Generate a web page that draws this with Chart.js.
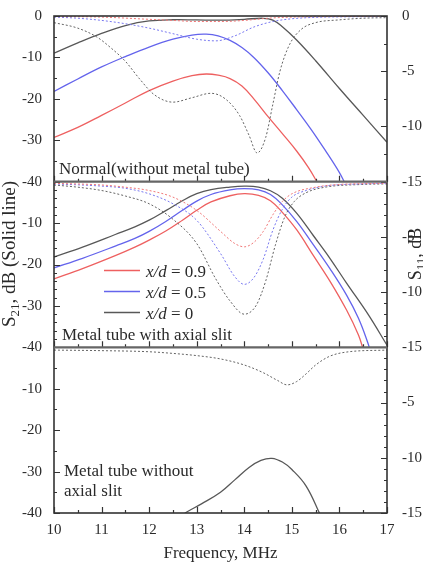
<!DOCTYPE html>
<html>
<head>
<meta charset="utf-8">
<script src="https://cdn.jsdelivr.net/npm/chart.js@4.4.1/dist/chart.umd.min.js"></script>
<style>
  html, body { margin: 0; padding: 0; background: #fff; }
  #wrap { width: 423px; height: 573px; }
</style>
</head>
<body>
<div id="wrap"><canvas id="chart" width="423" height="573"></canvas></div>
<script>
// [frequency MHz, dB]
// panel 1: normal (without metal tube)
const n_red_s21 = [[10,-29.3],[10.5,-26.9],[11,-24.0],[11.5,-21.0],[12,-18.0],[12.5,-15.7],[12.9,-14.4],[13.2,-14.0],[13.45,-14.3],[13.7,-15.1],[13.95,-16.9],[14.2,-20.0],[14.5,-24.3],[14.8,-28.4],[15.1,-32.6],[15.35,-36.6],[15.55,-40.5]];
const n_blue_s21 = [[10,-18.2],[10.5,-15.2],[11,-12.3],[11.5,-9.8],[12,-7.5],[12.5,-5.6],[12.9,-4.6],[13.2,-4.4],[13.45,-4.8],[13.7,-5.9],[13.95,-7.6],[14.2,-10.0],[14.5,-13.7],[14.8,-18.0],[15.1,-22.6],[15.4,-27.3],[15.7,-32.4],[16,-37.8],[16.12,-40.5]];
const n_black_s21 = [[10,-9],[10.5,-6.5],[11,-4.2],[11.5,-2.3],[12,-1.2],[12.5,-0.9],[13,-0.95],[13.5,-1.0],[14,-0.8],[14.4,-0.55],[14.6,-1.0],[14.8,-2.6],[15.1,-5.8],[15.5,-10.8],[16,-17.5],[16.5,-24],[17,-30.5]];
const n_red_s11 = [[10,-0.05],[11,-0.1],[12,-0.3],[12.5,-0.4],[13,-0.5],[13.5,-0.5],[14,-0.4],[14.5,-0.2],[15,-0.1],[16,-0.05],[17,-0.03]];
const n_blue_s11 = [[10,-0.1],[10.5,-0.2],[11,-0.4],[11.5,-0.7],[12,-1.1],[12.5,-1.6],[13,-2.1],[13.4,-2.25],[13.8,-1.8],[14.2,-1.0],[14.6,-0.5],[15,-0.25],[15.5,-0.12],[16,-0.08],[17,-0.05]];
const n_black_s11 = [[10,-0.6],[10.5,-1.1],[10.9,-1.9],[11.2,-2.9],[11.5,-4.1],[11.8,-5.7],[12.1,-7.1],[12.5,-7.8],[12.9,-7.4],[13.3,-7.0],[13.6,-7.5],[13.9,-9.0],[14.1,-10.8],[14.27,-12.4],[14.45,-11.0],[14.6,-8.0],[14.75,-5.0],[14.95,-2.6],[15.2,-1.2],[15.5,-0.6],[16,-0.35],[16.5,-0.2],[17,-0.15]];

// panel 2: metal tube with axial slit
const s_red_s21 = [[10,-23.5],[10.6,-21],[11.3,-17.8],[11.7,-15.8],[12,-14.1],[12.35,-11.9],[12.7,-9.3],[13,-6.9],[13.3,-4.9],[13.7,-3.4],[14,-2.9],[14.3,-3.3],[14.55,-4.6],[14.8,-7.4],[15.1,-11.6],[15.45,-17.8],[15.8,-24],[16.15,-31],[16.4,-37],[16.5,-40.5]];
const s_blue_s21 = [[10,-20.8],[10.6,-18.5],[11.3,-15.5],[11.7,-13.7],[12,-12.0],[12.35,-9.6],[12.7,-6.9],[13,-4.7],[13.3,-3.1],[13.7,-2.0],[14,-1.7],[14.3,-2.0],[14.55,-3.1],[14.8,-5.6],[15.1,-9.6],[15.45,-15.2],[15.8,-21],[16.15,-27.4],[16.4,-33],[16.6,-39],[16.65,-41]];
const s_black_s21 = [[10,-18.2],[10.6,-15.8],[11.3,-12.7],[11.7,-10.9],[12,-9.3],[12.35,-7.0],[12.7,-4.6],[13,-2.9],[13.3,-1.9],[13.7,-1.3],[14,-1.1],[14.3,-1.3],[14.55,-2.2],[14.8,-4.0],[15.1,-7.6],[15.45,-13.0],[15.8,-18.5],[16.15,-24.5],[16.6,-32.0],[17,-39.5]];
const s_red_s11 = [[10,-0.15],[11,-0.3],[11.5,-0.5],[12,-0.8],[12.5,-1.4],[13,-2.6],[13.5,-4.5],[13.8,-5.6],[14,-5.9],[14.2,-5.5],[14.4,-4.5],[14.6,-3],[14.8,-1.8],[15,-1.1],[15.5,-0.5],[16,-0.25],[17,-0.15]];
const s_blue_s11 = [[10,-0.2],[11,-0.4],[11.5,-0.6],[12,-1.1],[12.5,-2.0],[13,-3.5],[13.5,-6.5],[13.8,-8.6],[14,-9.3],[14.2,-8.7],[14.4,-7.0],[14.6,-4.4],[14.8,-2.5],[15,-1.4],[15.3,-0.8],[15.7,-0.4],[16.5,-0.2],[17,-0.15]];
const s_black_s11 = [[10,-0.3],[10.5,-0.5],[11,-0.8],[11.5,-1.3],[12,-2.0],[12.5,-3.4],[13,-5.6],[13.4,-8.8],[13.7,-10.8],[14,-12.0],[14.25,-11.2],[14.45,-9],[14.65,-5.8],[14.85,-3.2],[15.05,-1.8],[15.3,-1.0],[15.7,-0.5],[16.5,-0.25],[17,-0.2]];

// panel 3: metal tube without axial slit
const w_black_s21 = [[12.7,-40.5],[12.8,-39.7],[13.1,-37.8],[13.5,-35],[13.8,-32],[14.1,-29],[14.35,-27.3],[14.58,-26.8],[14.8,-27.7],[15,-29.5],[15.3,-33.5],[15.6,-40.5]];
const w_black_s11 = [[10,-0.25],[11,-0.3],[12,-0.4],[12.5,-0.55],[13,-0.75],[13.5,-1.05],[14,-1.6],[14.4,-2.3],[14.7,-3.0],[14.9,-3.4],[15.1,-3.1],[15.3,-2.4],[15.5,-1.6],[15.8,-0.8],[16.2,-0.4],[17,-0.25]];

const legend_labels = ['0.9', '0.5', '0'];
const panel_labels = [['Normal(without metal tube)'], ['Metal tube with axial slit'], ['Metal tube without', 'axial slit']];

const RED = 'rgb(238,96,96)', RED_DOT = 'rgb(240,120,120)';
const BLUE = 'rgb(100,100,236)', BLUE_DOT = 'rgb(120,120,240)';
const BLACK = 'rgb(88,88,88)', BLACK_DOT = 'rgb(100,100,100)';
const SERIF = '"Liberation Serif", "Times New Roman", serif';

function pts(arr) { return arr.map(p => ({x: p[0], y: p[1]})); }
function solid(arr, color, axis) {
  return {data: pts(arr), borderColor: color, borderWidth: 1.3, yAxisID: axis, pointRadius: 0, tension: 0.4};
}
function dotted(arr, color, axis) {
  return {data: pts(arr), borderColor: color, borderWidth: 1, borderDash: [2, 2], yAxisID: axis, pointRadius: 0, cubicInterpolationMode: 'monotone'};
}

function yAxis(pos, min, step, hideZero, weight) {
  return {
    type: 'linear', position: pos, stack: pos, stackWeight: 1, weight: weight,
    min: min, max: 0, offset: false,
    grid: {display: false}, border: {display: false},
    ticks: {
      stepSize: step, autoSkip: false, padding: pos === 'left' ? 4 : 7,
      color: '#2a2a2a', font: {family: SERIF, size: 15},
      callback: v => (hideZero && v === 0) ? '' : String(v)
    },
    afterFit: s => { s.width = pos === 'left' ? 54 : 36; }
  };
}

// minor tick steps per panel [left, right]
const minorSteps = [[5, 2.5], [2, 1], [5, 1]];

const framePlugin = {
  id: 'frame',
  beforeDatasetDraw(chart, args) {
    const y = args.meta.yScale, a = chart.chartArea, ctx = chart.ctx;
    ctx.save();
    ctx.beginPath();
    ctx.rect(a.left, y.top, a.right - a.left, y.bottom - y.top);
    ctx.clip();
  },
  afterDatasetDraw(chart) { chart.ctx.restore(); },
  afterDraw(chart) {
    const ctx = chart.ctx, a = chart.chartArea, xs = chart.scales.x;
    const lefts = [chart.scales.L1, chart.scales.L2, chart.scales.L3];
    const rights = [chart.scales.R1, chart.scales.R2, chart.scales.R3];
    ctx.save();
    ctx.strokeStyle = '#333';
    ctx.lineWidth = 1.2;
    ctx.beginPath();
    lefts.forEach((L, i) => {
      const R = rights[i];
      for (let f = 10; f <= 17; f += 0.5) {
        const px = Math.round(xs.getPixelForValue(f)) + 0.5;
        const len = Number.isInteger(f) ? 6 : 3;
        ctx.moveTo(px, L.bottom); ctx.lineTo(px, L.bottom - len);
      }
      for (let v = -40; v <= 0; v += minorSteps[i][0]) {
        const py = Math.round(L.getPixelForValue(v)) + 0.5;
        const len = v % 10 === 0 ? 6 : 3;
        ctx.moveTo(a.left, py); ctx.lineTo(a.left + len, py);
      }
      for (let v = -15; v <= 0; v += minorSteps[i][1]) {
        const py = Math.round(R.getPixelForValue(v)) + 0.5;
        const len = v % 5 === 0 ? 6 : 3;
        ctx.moveTo(a.right - len, py); ctx.lineTo(a.right, py);
      }
    });
    ctx.stroke();

    // frame and panel separators
    ctx.lineWidth = 1.6;
    ctx.strokeStyle = '#333';
    ctx.strokeRect(a.left, a.top, a.right - a.left, a.bottom - a.top);
    ctx.lineWidth = 2.2;
    ctx.strokeStyle = '#666';
    ctx.beginPath();
    [lefts[0].bottom, lefts[1].bottom].forEach(y => { ctx.moveTo(a.left, y); ctx.lineTo(a.right, y); });
    ctx.stroke();

    // panel labels
    ctx.fillStyle = '#2a2a2a';
    ctx.font = '17px ' + SERIF;
    ctx.textAlign = 'left';
    ctx.textBaseline = 'alphabetic';
    ctx.fillText(panel_labels[0][0], a.left + 5, lefts[0].bottom - 8);
    ctx.fillText(panel_labels[1][0], a.left + 8, lefts[1].bottom - 7);
    ctx.fillText(panel_labels[2][0], a.left + 10, lefts[2].bottom - 37);
    ctx.fillText(panel_labels[2][1], a.left + 10, lefts[2].bottom - 17);

    // legend
    const cols = [RED, BLUE, BLACK];
    const ly = [270.5, 291.5, 312.5];
    cols.forEach((c, i) => {
      ctx.strokeStyle = c;
      ctx.lineWidth = 1.5;
      ctx.beginPath(); ctx.moveTo(104, ly[i]); ctx.lineTo(140, ly[i]); ctx.stroke();
      ctx.font = 'italic 17px ' + SERIF;
      ctx.fillText('x/d', 146, ly[i] + 6);
      const w = ctx.measureText('x/d').width;
      ctx.font = '17px ' + SERIF;
      ctx.fillText(' = ' + legend_labels[i], 146 + w, ly[i] + 6);
    });

    // axis titles
    ctx.font = '17px ' + SERIF;
    ctx.textAlign = 'center';
    ctx.fillText('Frequency, MHz', (a.left + a.right) / 2, 558);

    function subTitle(x, y, size, main, sub, rest) {
      const small = Math.round(size * 0.7);
      ctx.save();
      ctx.translate(x, y);
      ctx.rotate(-Math.PI / 2);
      ctx.textAlign = 'left';
      ctx.font = size + 'px ' + SERIF;
      const w1 = ctx.measureText(main).width;
      const w3 = ctx.measureText(rest).width;
      ctx.font = small + 'px ' + SERIF;
      const w2 = ctx.measureText(sub).width;
      const x0 = -(w1 + w2 + w3) / 2;
      ctx.font = size + 'px ' + SERIF;
      ctx.fillText(main, x0, 0);
      ctx.font = small + 'px ' + SERIF;
      ctx.fillText(sub, x0 + w1, 4);
      ctx.font = size + 'px ' + SERIF;
      ctx.fillText(rest, x0 + w1 + w2, 0);
      ctx.restore();
    }
    subTitle(15, 254, 19, 'S', '21', ', dB (Solid line)');
    subTitle(421, 254, 18, 'S', '11', ', dB');
    ctx.restore();
  }
};

new Chart(document.getElementById('chart'), {
  type: 'line',
  data: {
    datasets: [
      dotted(n_red_s11, RED_DOT, 'R1'), dotted(n_blue_s11, BLUE_DOT, 'R1'), dotted(n_black_s11, BLACK_DOT, 'R1'),
      solid(n_red_s21, RED, 'L1'), solid(n_blue_s21, BLUE, 'L1'), solid(n_black_s21, BLACK, 'L1'),
      dotted(s_red_s11, RED_DOT, 'R2'), dotted(s_blue_s11, BLUE_DOT, 'R2'), dotted(s_black_s11, BLACK_DOT, 'R2'),
      solid(s_red_s21, RED, 'L2'), solid(s_blue_s21, BLUE, 'L2'), solid(s_black_s21, BLACK, 'L2'),
      dotted(w_black_s11, BLACK_DOT, 'R3'),
      solid(w_black_s21, BLACK, 'L3')
    ]
  },
  options: {
    responsive: false,
    animation: false,
    devicePixelRatio: 1,
    layout: {padding: {top: 16, left: 0, right: 0, bottom: 0}},
    plugins: {legend: {display: false}, tooltip: {enabled: false}},
    scales: {
      x: {
        type: 'linear', position: 'bottom', min: 10, max: 17,
        grid: {display: false}, border: {display: false},
        ticks: {stepSize: 1, padding: 0, color: '#2a2a2a', font: {family: SERIF, size: 15}},
        afterFit: s => { s.height = 60; }
      },
      L1: yAxis('left', -40, 10, false, 3),
      L2: yAxis('left', -40, 10, true, 2),
      L3: yAxis('left', -40, 10, true, 1),
      R1: yAxis('right', -15, 5, false, 1),
      R2: yAxis('right', -15, 5, true, 2),
      R3: yAxis('right', -15, 5, true, 3)
    }
  },
  plugins: [framePlugin]
});
</script>
</body>
</html>
